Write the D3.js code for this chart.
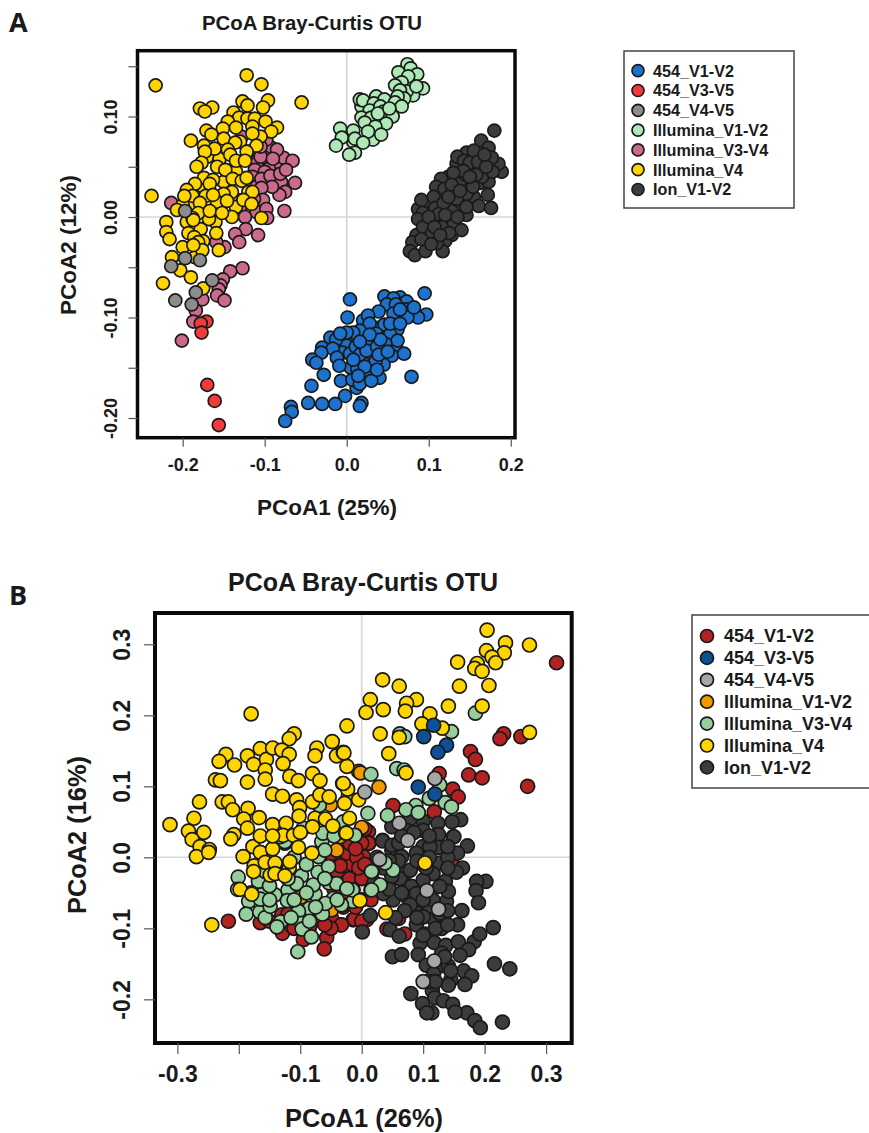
<!DOCTYPE html>
<html>
<head>
<meta charset="utf-8">
<script src="https://cdn.jsdelivr.net/npm/d3@7"></script>
<style>
  body { margin: 0; background: #fff; }
  svg { display: block; }
  text { font-family: "Liberation Sans", Arial, sans-serif; font-weight: bold; fill: #1a1a1a; }
</style>
</head>
<body>
<div id="chart"></div>
<script>
const categories = ["454_V1-V2", "454_V3-V5", "454_V4-V5", "Illumina_V1-V2", "Illumina_V3-V4", "Illumina_V4", "Ion_V1-V2"];

const xTicksA = [-0.2, -0.1, 0, 0.1, 0.2];
const yTicksA = [-0.2, -0.15, -0.1, -0.05, 0, 0.05, 0.1, 0.15];
const yLabelsA = [-0.2, -0.1, 0, 0.1];
const xTicksB = [-0.3, -0.2, -0.1, 0, 0.1, 0.2, 0.3];
const xLabelsB = [-0.3, -0.1, 0, 0.1, 0.2, 0.3];
const yTicksB = [-0.2, -0.1, 0, 0.1, 0.2, 0.3];

// panel A
const a454V1V2 = [[0.004,-0.082],[0.001,-0.100],[0.046,-0.079],[0.095,-0.076],[0.065,-0.080],[0.073,-0.084],[0.057,-0.081],[0.049,-0.087],[0.060,-0.087],[0.072,-0.092],[0.097,-0.097],[0.087,-0.100],[0.074,-0.100],[0.057,-0.096],[0.039,-0.094],[0.020,-0.103],[0.040,-0.110],[0.065,-0.092],[0.082,-0.090],[0.055,-0.110],[0.010,-0.122],[0.000,-0.128],[-0.005,-0.135],[0.030,-0.140],[0.045,-0.135],[0.020,-0.145],[0.005,-0.150],[0.012,-0.170],[0.032,-0.120],[-0.020,-0.120],[0.062,-0.112],[0.040,-0.160],[0.060,-0.128],[0.026,-0.098],[0.028,-0.106],[0.046,-0.107],[0.016,-0.113],[0.008,-0.115],[0.000,-0.115],[0.036,-0.116],[0.053,-0.117],[-0.013,-0.122],[0.062,-0.123],[0.047,-0.126],[-0.030,-0.130],[-0.017,-0.131],[-0.031,-0.135],[-0.042,-0.142],[-0.037,-0.145],[-0.028,-0.157],[-0.012,-0.140],[-0.009,-0.148],[0.004,-0.136],[0.011,-0.129],[0.016,-0.137],[0.025,-0.127],[0.024,-0.133],[0.037,-0.129],[0.055,-0.138],[0.070,-0.136],[0.045,-0.147],[0.035,-0.144],[0.013,-0.151],[0.028,-0.154],[0.079,-0.159],[-0.043,-0.168],[-0.007,-0.163],[0.007,-0.162],[0.016,-0.166],[0.030,-0.163],[-0.002,-0.178],[-0.047,-0.185],[-0.030,-0.186],[-0.014,-0.186],[0.018,-0.185],[0.016,-0.188],[-0.068,-0.189],[-0.067,-0.194],[-0.075,-0.203],[0.008,-0.142],[0.022,-0.149],[0.041,-0.122],[0.028,-0.117],[0.053,-0.106],[0.065,-0.106],[-0.008,-0.116],[0.016,-0.124],[0.039,-0.137],[0.050,-0.134],[0.037,-0.152],[0.014,-0.158]];
const a454V3V5 = [[-0.171,-0.104],[-0.178,-0.106],[-0.177,-0.115],[-0.170,-0.167],[-0.161,-0.183],[-0.156,-0.207]];
const a454V4V5 = [[-0.197,0.006],[-0.197,-0.041],[-0.179,-0.043],[-0.214,-0.049],[-0.164,-0.063],[-0.184,-0.075],[-0.209,-0.083],[-0.189,-0.087]];
const aIllV1V2 = [[0.074,0.152],[0.078,0.148],[0.086,0.142],[0.063,0.144],[0.075,0.140],[0.067,0.134],[0.059,0.131],[0.093,0.128],[0.081,0.121],[0.073,0.125],[0.065,0.126],[0.025,0.112],[0.018,0.110],[0.050,0.098],[0.040,0.095],[0.070,0.118],[0.085,0.130],[0.062,0.120],[0.008,0.075],[0.032,0.077],[0.016,0.117],[0.020,0.116],[0.036,0.120],[0.046,0.117],[0.059,0.114],[0.067,0.110],[0.033,0.113],[0.028,0.106],[0.041,0.110],[0.045,0.105],[0.056,0.100],[0.018,0.099],[0.030,0.099],[0.022,0.094],[0.048,0.093],[0.035,0.090],[0.042,0.082],[0.026,0.085],[-0.008,0.088],[0.008,0.086],[-0.006,0.079],[0.010,0.078],[0.020,0.074],[-0.013,0.071],[0.010,0.064],[0.003,0.062],[0.038,0.103],[0.052,0.108]];
const aIllV3V4 = [[-0.214,0.014],[-0.092,0.069],[-0.100,0.059],[-0.085,0.052],[-0.077,0.059],[-0.066,0.056],[-0.110,0.053],[-0.112,0.047],[-0.098,0.077],[-0.085,0.067],[-0.128,0.080],[-0.120,0.065],[-0.105,0.060],[-0.095,0.048],[-0.115,0.040],[-0.090,0.058],[-0.100,0.045],[-0.080,0.035],[-0.110,0.030],[-0.120,0.020],[-0.130,0.010],[-0.110,0.005],[-0.105,0.070],[-0.104,0.038],[-0.093,0.041],[-0.081,0.043],[-0.074,0.047],[-0.063,0.034],[-0.075,0.025],[-0.082,0.022],[-0.091,0.030],[-0.104,0.029],[-0.102,0.017],[-0.098,0.008],[-0.076,0.006],[-0.124,0.000],[-0.097,-0.001],[-0.134,0.017],[-0.113,0.018],[-0.159,0.002],[-0.123,-0.012],[-0.136,-0.017],[-0.131,-0.025],[-0.108,-0.018],[-0.149,-0.030],[-0.159,-0.025],[-0.127,-0.051],[-0.142,-0.054],[-0.151,-0.062],[-0.154,-0.068],[-0.156,-0.072],[-0.158,-0.078],[-0.149,-0.083],[-0.176,-0.082],[-0.184,-0.093],[-0.187,-0.104],[-0.201,-0.123]];
const aIllV4 = [[-0.233,0.131],[-0.122,0.141],[-0.104,0.132],[-0.055,0.114],[-0.238,0.021],[-0.179,0.108],[-0.164,0.109],[-0.173,0.105],[-0.127,0.115],[-0.121,0.111],[-0.096,0.116],[-0.102,0.109],[-0.138,0.104],[-0.131,0.099],[-0.121,0.098],[-0.112,0.098],[-0.099,0.095],[-0.085,0.089],[-0.092,0.085],[-0.145,0.095],[-0.130,0.075],[-0.115,0.090],[-0.105,0.080],[-0.170,0.060],[-0.155,0.058],[-0.150,0.035],[-0.135,0.045],[-0.175,0.030],[-0.190,0.010],[-0.160,-0.005],[-0.120,0.025],[-0.135,0.010],[-0.140,0.000],[-0.165,0.015],[-0.200,0.012],[-0.178,-0.012],[-0.195,-0.005],[-0.185,-0.040],[-0.168,-0.002],[-0.135,0.089],[-0.171,0.086],[-0.151,0.088],[-0.165,0.082],[-0.115,0.083],[-0.190,0.076],[-0.150,0.078],[-0.136,0.074],[-0.174,0.071],[-0.161,0.068],[-0.145,0.067],[-0.173,0.065],[-0.110,0.071],[-0.122,0.065],[-0.142,0.062],[-0.135,0.056],[-0.124,0.056],[-0.177,0.054],[-0.183,0.050],[-0.158,0.050],[-0.148,0.047],[-0.174,0.039],[-0.163,0.037],[-0.139,0.038],[-0.128,0.036],[-0.122,0.039],[-0.185,0.033],[-0.167,0.033],[-0.195,0.027],[-0.115,0.025],[-0.140,0.025],[-0.150,0.023],[-0.188,0.021],[-0.172,0.021],[-0.198,0.021],[-0.126,0.017],[-0.158,0.015],[-0.116,0.013],[-0.146,0.016],[-0.163,0.022],[-0.179,0.014],[-0.207,0.007],[-0.181,0.004],[-0.167,0.006],[-0.152,0.004],[-0.188,-0.001],[-0.104,-0.001],[-0.220,-0.005],[-0.220,-0.015],[-0.216,-0.022],[-0.193,-0.016],[-0.159,-0.016],[-0.175,-0.024],[-0.186,-0.020],[-0.181,-0.025],[-0.200,-0.030],[-0.176,-0.033],[-0.156,-0.033],[-0.187,-0.028],[-0.213,-0.040],[-0.203,-0.053],[-0.190,-0.060],[-0.224,-0.066],[-0.175,-0.071],[-0.187,-0.003]];
const aIonV1V2 = [[0.180,0.086],[0.164,0.076],[0.173,0.069],[0.146,0.064],[0.189,0.045],[0.185,0.053],[0.177,0.059],[0.167,0.047],[0.152,0.047],[0.157,0.060],[0.134,0.053],[0.163,0.034],[0.173,0.035],[0.140,0.035],[0.124,0.040],[0.100,0.010],[0.110,0.016],[0.120,0.030],[0.130,0.025],[0.125,0.012],[0.135,0.012],[0.150,0.016],[0.155,0.020],[0.145,0.042],[0.135,0.060],[0.165,0.040],[0.178,0.045],[0.158,0.042],[0.115,0.038],[0.105,0.006],[0.087,0.008],[0.098,-0.018],[0.110,-0.004],[0.125,-0.005],[0.128,-0.018],[0.120,0.007],[0.146,0.002],[0.085,-0.018],[0.150,0.028],[0.172,0.022],[0.143,0.056],[0.155,0.066],[0.146,0.023],[0.109,0.030],[0.119,0.028],[0.091,0.017],[0.106,0.020],[0.134,0.018],[0.161,0.011],[0.176,0.009],[0.146,0.010],[0.128,0.006],[0.108,0.009],[0.118,0.014],[0.093,0.004],[0.087,-0.002],[0.130,-0.008],[0.116,-0.010],[0.140,-0.013],[0.102,-0.005],[0.093,-0.010],[0.104,-0.016],[0.120,-0.024],[0.080,-0.025],[0.077,-0.034],[0.083,-0.038],[0.096,-0.034],[0.117,-0.034],[0.110,-0.026],[0.150,0.054],[0.142,0.046],[0.130,0.044],[0.128,0.032],[0.154,0.030],[0.138,0.026],[0.124,0.020],[0.150,0.040],[0.160,0.055],[0.112,0.003],[0.120,0.002],[0.135,0.000],[0.100,0.000],[0.107,-0.010],[0.125,-0.016],[0.091,-0.022],[0.103,-0.027],[0.114,-0.018],[0.170,0.050],[0.168,0.062]];

// panel B
const b454V1V2 = [[0.317,0.274],[0.231,0.174],[0.225,0.167],[0.259,0.170],[0.177,0.149],[0.185,0.138],[0.174,0.116],[0.196,0.112],[0.270,0.100],[0.126,0.118],[0.148,0.096],[0.157,0.085],[0.051,0.073],[0.118,0.064],[0.011,0.036],[0.012,0.020],[-0.217,-0.090],[-0.057,-0.113],[-0.061,-0.129],[-0.035,-0.095],[-0.014,-0.088],[-0.049,-0.086],[-0.130,-0.081],[-0.165,-0.092],[-0.129,-0.107],[-0.114,-0.097],[-0.095,-0.116],[-0.073,-0.088],[-0.015,-0.009],[-0.030,0.001],[-0.024,-0.015],[0.011,0.020],[0.011,-0.025],[0.003,0.001],[-0.041,-0.008],[-0.016,-0.010],[-0.012,-0.087],[-0.033,-0.095],[0.060,-0.086],[0.070,-0.108],[0.041,-0.101],[0.146,-0.008],[0.008,-0.088],[-0.024,0.006],[-0.120,-0.080],[-0.090,-0.080],[-0.070,-0.070],[-0.030,-0.070],[-0.020,-0.030],[-0.040,-0.020],[0.000,-0.030],[-0.030,-0.050],[-0.010,-0.070],[0.000,-0.090],[-0.050,-0.100],[-0.110,-0.100],[-0.150,-0.090],[0.005,0.040],[-0.008,0.000],[0.000,0.020],[-0.035,-0.012],[-0.050,0.005],[-0.020,0.020],[-0.025,-0.060],[-0.005,-0.015],[0.005,-0.010],[-0.010,0.012],[-0.045,-0.045],[0.000,-0.060],[-0.060,-0.095],[-0.085,-0.098],[0.015,-0.060]];
const b454V3V5 = [[0.117,0.186],[0.101,0.170],[0.138,0.158],[0.124,0.148],[0.092,0.099],[0.119,0.089]];
const b454V4V5 = [[0.119,0.111],[0.005,0.092],[0.061,0.048],[0.075,0.024],[0.029,-0.003],[0.106,-0.047],[0.125,-0.073],[0.118,-0.146],[0.100,-0.175]];
const bIllV1V2 = [[-0.041,0.010],[-0.005,0.121],[-0.051,0.074],[-0.035,0.029],[-0.099,-0.056],[-0.049,-0.074],[-0.002,0.119],[0.028,0.099],[0.000,0.042]];
const bIllV3V4 = [[0.185,0.203],[0.146,0.177],[0.062,0.174],[0.070,0.170],[0.057,0.125],[0.069,0.123],[0.015,0.117],[0.127,0.102],[0.110,0.083],[0.136,0.077],[0.146,0.071],[0.088,0.073],[0.072,0.067],[0.092,0.063],[0.042,0.059],[0.010,0.062],[-0.011,0.031],[-0.022,0.085],[0.017,-0.020],[0.051,-0.018],[0.030,-0.039],[-0.014,-0.046],[0.015,-0.046],[-0.031,-0.067],[-0.014,-0.062],[0.038,-0.008],[-0.201,-0.028],[-0.202,-0.045],[-0.168,-0.034],[-0.184,-0.062],[-0.188,-0.080],[-0.166,-0.077],[-0.157,-0.085],[-0.149,-0.069],[-0.141,-0.053],[-0.120,-0.046],[-0.121,-0.061],[-0.098,-0.026],[-0.071,-0.021],[-0.054,-0.013],[-0.053,-0.036],[-0.076,-0.052],[-0.046,-0.058],[-0.015,-0.046],[0.016,-0.020],[0.016,-0.046],[-0.033,-0.067],[-0.085,-0.072],[-0.103,-0.076],[-0.064,-0.080],[-0.132,-0.091],[-0.138,-0.098],[-0.098,-0.093],[-0.097,-0.101],[-0.082,-0.112],[-0.104,-0.133],[-0.065,0.022],[-0.125,0.020],[-0.163,-0.053],[-0.165,-0.059],[-0.106,-0.037],[-0.079,-0.039],[-0.041,-0.037],[-0.059,-0.065],[-0.127,-0.018],[-0.024,-0.044],[-0.157,-0.020],[-0.125,0.022],[-0.095,0.041],[-0.063,0.034],[-0.069,0.073],[-0.011,0.031],[-0.070,0.001],[-0.133,0.029],[-0.150,0.000],[-0.110,0.000],[-0.090,-0.010],[-0.140,-0.020],[-0.180,-0.050],[-0.110,-0.060],[-0.075,-0.070],[-0.060,-0.030],[-0.040,-0.060],[-0.120,-0.030],[-0.150,-0.040],[-0.090,-0.050],[-0.150,-0.060],[-0.115,-0.085],[-0.085,-0.090],[-0.060,0.010],[-0.045,0.030],[-0.030,0.050]];
const bIllV4 = [[-0.180,0.202],[-0.312,0.046],[-0.024,0.185],[-0.110,0.174],[-0.118,0.167],[-0.221,0.145],[-0.232,0.135],[-0.207,0.130],[-0.186,0.143],[-0.176,0.131],[-0.165,0.153],[-0.155,0.138],[-0.145,0.154],[-0.130,0.151],[-0.118,0.145],[-0.128,0.132],[-0.157,0.123],[-0.073,0.154],[-0.076,0.143],[-0.048,0.163],[-0.041,0.143],[-0.030,0.148],[-0.024,0.128],[-0.080,0.118],[-0.068,0.108],[-0.238,0.109],[-0.230,0.108],[-0.186,0.106],[-0.157,0.110],[-0.117,0.114],[-0.103,0.108],[-0.145,0.089],[-0.129,0.086],[-0.031,0.104],[-0.023,0.096],[-0.264,0.078],[-0.227,0.078],[-0.217,0.078],[-0.210,0.067],[-0.185,0.069],[-0.192,0.054],[-0.167,0.056],[-0.273,0.055],[-0.282,0.037],[-0.257,0.035],[-0.276,0.025],[-0.263,0.015],[-0.248,0.011],[-0.269,0.001],[-0.249,0.007],[-0.208,0.032],[-0.213,0.026],[-0.186,0.041],[-0.145,0.046],[-0.123,0.048],[-0.106,0.081],[-0.101,0.070],[-0.102,0.058],[-0.080,0.078],[-0.068,0.088],[-0.053,0.085],[-0.028,0.076],[-0.076,0.055],[-0.059,0.054],[-0.080,0.043],[-0.047,0.044],[-0.020,0.055],[-0.026,0.034],[-0.128,0.031],[-0.111,0.031],[-0.103,0.014],[-0.177,0.015],[-0.165,0.007],[-0.145,0.012],[-0.193,0.001],[-0.081,0.006],[-0.005,0.081],[-0.175,-0.012],[-0.157,-0.007],[-0.176,-0.020],[-0.141,-0.008],[-0.118,-0.015],[-0.149,-0.025],[-0.141,-0.023],[-0.125,-0.026],[-0.117,-0.006],[-0.198,-0.045],[-0.179,-0.052],[-0.244,-0.095],[-0.003,-0.061],[-0.165,0.030],[-0.145,0.030],[-0.100,0.035],[0.204,0.320],[0.234,0.302],[0.273,0.299],[0.203,0.291],[0.232,0.288],[0.212,0.282],[0.218,0.274],[0.156,0.275],[0.188,0.273],[0.184,0.266],[0.196,0.262],[0.207,0.242],[0.159,0.241],[0.034,0.250],[0.061,0.241],[0.014,0.222],[0.007,0.204],[0.035,0.208],[0.089,0.222],[0.073,0.217],[0.071,0.206],[0.141,0.213],[0.196,0.213],[0.111,0.202],[0.098,0.188],[0.131,0.182],[0.273,0.176],[0.030,0.174],[0.061,0.169],[0.044,0.146],[0.072,0.119],[-0.029,0.147],[-0.030,0.104],[-0.025,0.034],[0.103,-0.008],[0.039,-0.078]];
const bIonV1V2 = [[0.172,0.016],[0.149,0.029],[0.100,0.015],[0.156,0.006],[0.164,-0.015],[0.154,-0.021],[0.136,-0.034],[0.034,0.024],[0.049,0.010],[0.065,0.001],[0.127,-0.008],[0.070,-0.023],[0.081,-0.041],[0.062,-0.030],[0.051,-0.060],[0.035,-0.051],[0.073,-0.055],[0.094,-0.069],[0.118,-0.088],[0.138,-0.062],[0.163,-0.075],[0.156,-0.095],[0.141,-0.048],[0.014,-0.082],[0.001,-0.105],[0.046,-0.102],[0.061,-0.111],[0.089,-0.095],[0.103,-0.108],[0.095,-0.121],[0.118,-0.120],[0.137,-0.124],[0.157,-0.119],[0.183,-0.119],[0.192,-0.108],[0.214,-0.099],[0.174,-0.130],[0.160,-0.138],[0.202,-0.034],[0.187,-0.034],[0.186,-0.047],[0.190,-0.064],[0.050,-0.140],[0.065,-0.137],[0.092,-0.137],[0.105,-0.152],[0.127,-0.153],[0.141,-0.153],[0.117,-0.164],[0.166,-0.160],[0.179,-0.167],[0.145,-0.173],[0.168,-0.179],[0.141,-0.180],[0.216,-0.150],[0.241,-0.157],[0.115,-0.188],[0.080,-0.192],[0.119,-0.198],[0.099,-0.206],[0.133,-0.202],[0.148,-0.207],[0.171,-0.219],[0.152,-0.218],[0.114,-0.219],[0.106,-0.219],[0.184,-0.230],[0.193,-0.240],[0.229,-0.232],[0.087,-0.077],[0.111,-0.069],[0.127,-0.079],[0.161,0.053],[0.147,0.050],[0.124,0.048],[0.100,0.051],[0.079,0.054],[0.049,0.043],[0.034,0.023],[0.150,0.029],[0.125,0.032],[0.100,0.038],[0.049,0.017],[0.124,0.014],[0.073,0.038],[0.111,0.015],[0.089,0.006],[0.116,-0.023],[0.127,-0.041],[0.100,-0.032],[0.089,-0.051],[0.116,-0.060],[0.100,-0.084],[0.079,-0.018],[0.079,-0.067],[0.049,-0.027],[0.140,0.000],[0.100,-0.010],[0.060,0.020],[0.035,-0.015],[0.130,-0.100],[0.065,0.030],[0.085,0.035],[0.110,0.030],[0.140,0.015],[0.060,-0.005],[0.090,-0.005],[0.110,0.000],[0.045,-0.005],[0.025,0.000],[0.020,-0.035],[0.045,-0.045],[0.065,-0.050],[0.105,-0.015],[0.140,-0.015],[0.100,-0.060],[0.070,-0.075],[0.055,-0.085],[0.120,-0.100],[0.140,-0.095],[0.140,-0.075],[0.100,-0.110],[0.090,-0.085],[0.130,-0.135],[0.110,-0.175],[0.120,-0.175],[0.145,-0.160],[0.135,-0.140]];

const coloursA = ["#1c72cc", "#f23a3a", "#8c8c8c", "#aee8b4", "#cc6a8c", "#ffd500", "#3c3c3c"];
const coloursB = ["#b22222", "#0f4f96", "#a6a6a6", "#f09a00", "#96cf9d", "#ffd500", "#3c3c3c"];

const svg = d3.select("#chart").append("svg")
  .attr("width", 869)
  .attr("height", 1133);

// the reference prints a plain hyphen, d3.format gives a real minus
const hyphen = (fmt, d) => d3.format(fmt)(d).replace("\u2212", "-");

// paints one panel: grid cross, points, frame, axes and labels
function drawPanel(p) {
  const x = d3.scaleLinear().domain(p.xDomain).range([p.left, p.right]);
  const y = d3.scaleLinear().domain(p.yDomain).range([p.bottom, p.top]);

  svg.append("line").attr("x1", x(0)).attr("x2", x(0)).attr("y1", p.top).attr("y2", p.bottom)
    .attr("stroke", "#d6d6d6").attr("stroke-width", 1.6);
  svg.append("line").attr("x1", p.left).attr("x2", p.right).attr("y1", y(0)).attr("y2", y(0))
    .attr("stroke", "#d6d6d6").attr("stroke-width", 1.6);

  p.layers.forEach(l => {
    svg.append("g").selectAll("circle")
      .data(l.values)
      .enter().append("circle")
      .attr("cx", d => x(d[0]))
      .attr("cy", d => y(d[1]))
      .attr("r", p.r)
      .attr("fill", p.colours[l.index])
      .attr("stroke", "#1a1a1a")
      .attr("stroke-width", 1.7);
  });

  svg.append("rect")
    .attr("x", p.left).attr("y", p.top)
    .attr("width", p.right - p.left).attr("height", p.bottom - p.top)
    .attr("fill", "none").attr("stroke", "#0a0a0a").attr("stroke-width", p.frame);

  const xAxis = svg.append("g")
    .attr("transform", `translate(0,${p.bottom})`)
    .call(d3.axisBottom(x).tickValues(p.xTicks).tickSize(p.tick).tickPadding(p.xPad)
      .tickFormat(d => p.xLabels.includes(d) ? hyphen(".1f", d) : ""));
  xAxis.select(".domain").remove();
  xAxis.selectAll("line").attr("stroke", "#555").attr("stroke-width", 1.2);
  xAxis.selectAll("text").style("font-size", p.tickFont + "px").attr("fill", "#1a1a1a");

  const yAxis = svg.append("g")
    .attr("transform", `translate(${p.left},0)`)
    .call(d3.axisLeft(y).tickValues(p.yTicks).tickSize(p.tick)
      .tickFormat(d => p.yLabels.includes(d) ? hyphen(p.yFormat, d) : ""));
  yAxis.select(".domain").remove();
  yAxis.selectAll("line").attr("stroke", "#555").attr("stroke-width", 1.2);
  yAxis.selectAll("text")
    .attr("x", 0).attr("dy", 0)
    .attr("transform", `translate(${-p.tick - p.yPad},0) rotate(-90)`)
    .style("text-anchor", "middle")
    .style("font-size", p.tickFont + "px")
    .attr("fill", "#1a1a1a");

  svg.append("text").attr("x", p.titleX).attr("y", p.titleY)
    .attr("text-anchor", "middle").style("font-size", p.titleFont + "px").text(p.title);
  svg.append("text").attr("x", p.xLabelX).attr("y", p.xLabelY)
    .attr("text-anchor", "middle").style("font-size", p.labelFont + "px").text(p.xLabel);
  svg.append("text")
    .attr("transform", `translate(${p.yLabelX},${p.yLabelY}) rotate(-90)`)
    .attr("text-anchor", "middle").style("font-size", p.labelFont + "px").text(p.yLabel);
  svg.append("text").attr("x", 9).attr("y", p.letterY)
    .style("font-family", "'Open Sans'").style("font-size", "27px").text(p.letter);

  // legend
  const lg = p.legend;
  svg.append("rect")
    .attr("x", lg.x).attr("y", lg.y).attr("width", lg.w).attr("height", lg.h)
    .attr("fill", "#fff").attr("stroke", "#444").attr("stroke-width", 1.5);
  const rows = svg.append("g").selectAll("g")
    .data(categories)
    .enter().append("g")
    .attr("transform", (d, i) => `translate(${lg.x},${lg.first + i * lg.step})`);
  rows.append("circle")
    .attr("cx", lg.dotX).attr("r", lg.r)
    .attr("fill", (d, i) => p.colours[i])
    .attr("stroke", "#1a1a1a").attr("stroke-width", 1.7);
  rows.append("text")
    .attr("x", lg.textX).attr("dy", "0.36em")
    .style("font-size", lg.font + "px")
    .text(d => d);
}

drawPanel({
  letter: "A", letterY: 32,
  title: "PCoA Bray-Curtis OTU", titleX: 312, titleY: 30, titleFont: 20.4,
  xLabel: "PCoA1 (25%)", xLabelX: 327, xLabelY: 515, yLabel: "PCoA2 (12%)", yLabelX: 76, yLabelY: 245, labelFont: 22.5,
  left: 137.5, right: 515, top: 50.7, bottom: 437.7,
  xDomain: [-0.2551, 0.2052], yDomain: [-0.2196, 0.1655],
  xTicks: xTicksA, xLabels: xTicksA, yTicks: yTicksA, yLabels: yLabelsA, yFormat: ".2f",
  tick: 9, xPad: 12, yPad: 12, tickFont: 18, frame: 3.5, r: 6.5,
  colours: coloursA,
  layers: [
    { index: 6, values: aIonV1V2 }, { index: 3, values: aIllV1V2 }, { index: 0, values: a454V1V2 },
    { index: 4, values: aIllV3V4 }, { index: 5, values: aIllV4 }, { index: 2, values: a454V4V5 }, { index: 1, values: a454V3V5 }
  ],
  legend: { x: 624, y: 51, w: 170, h: 157, first: 70.7, step: 19.8, dotX: 14, r: 6, textX: 29, font: 16.2 }
});

drawPanel({
  letter: "B", letterY: 605,
  title: "PCoA Bray-Curtis OTU", titleX: 363, titleY: 591, titleFont: 25,
  xLabel: "PCoA1 (26%)", xLabelX: 364, xLabelY: 1127, yLabel: "PCoA2 (16%)", yLabelX: 86, yLabelY: 835, labelFont: 25.4,
  left: 155, right: 571.7, top: 613, bottom: 1043,
  xDomain: [-0.3364, 0.3417], yDomain: [-0.2615, 0.3441],
  xTicks: xTicksB, xLabels: xLabelsB, yTicks: yTicksB, yLabels: yTicksB, yFormat: ".1f",
  tick: 11, xPad: 12, yPad: 14, tickFont: 23, frame: 4, r: 7,
  colours: coloursB,
  layers: [
    { index: 0, values: b454V1V2 }, { index: 6, values: bIonV1V2 }, { index: 3, values: bIllV1V2 },
    { index: 4, values: bIllV3V4 }, { index: 5, values: bIllV4 }, { index: 2, values: b454V4V5 }, { index: 1, values: b454V3V5 }
  ],
  legend: { x: 692, y: 615, w: 190, h: 173, first: 636, step: 21.9, dotX: 15, r: 6.5, textX: 32, font: 18 }
});
</script>
</body>
</html>
